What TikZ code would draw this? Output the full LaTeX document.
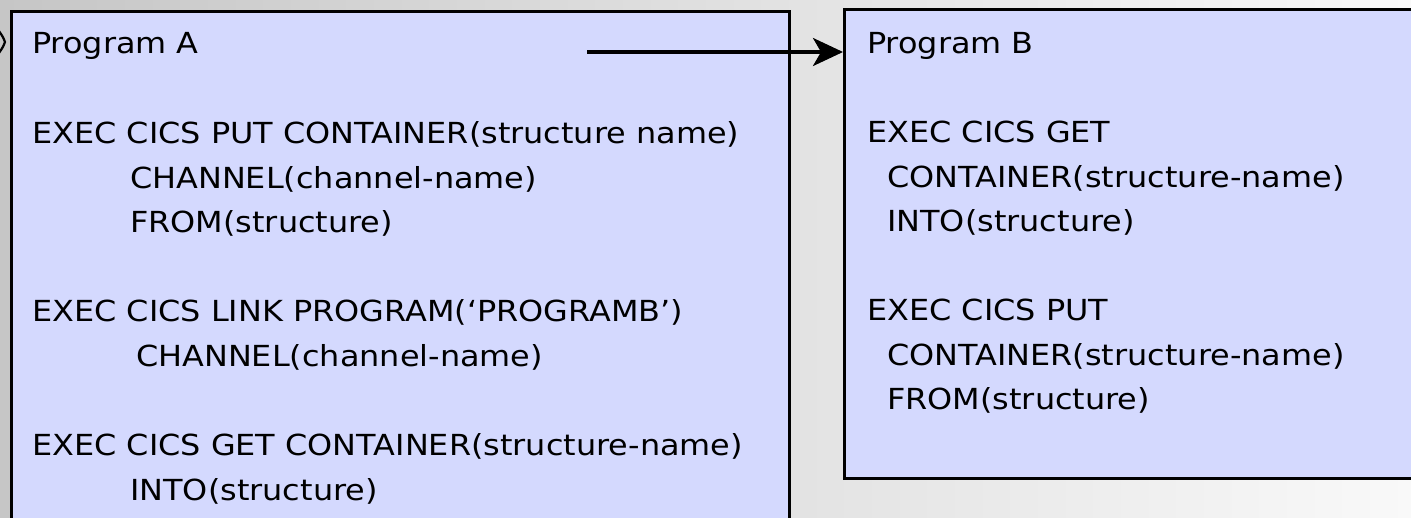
\documentclass[tikz,border=0pt]{standalone}
\usepackage{fontspec}
\usepackage{graphicx}
\setmainfont{DejaVu Sans}
\usetikzlibrary{arrows.meta}

\definecolor{boxfill}{HTML}{D4D9FE}
\definecolor{bgleft}{HTML}{C6C6C6}
\definecolor{bgright}{HTML}{F9F9F9}

\newcommand{\codetext}[1]{\scalebox{1.1}[1]{#1}}

\tikzset{
  progbox/.style={draw=black, line width=3pt, fill=boxfill, inner sep=0pt,
                  anchor=north west},
  codeline/.style={anchor=base west, inner sep=0pt, text=black,
                   font=\fontsize{29}{34}\selectfont},
  callarrow/.style={line width=3.5pt,
                    -{Stealth[length=30pt, width=28pt, inset=8pt]}}
}

\begin{document}
\begin{tikzpicture}[x=1pt, y=-1pt]
  \useasboundingbox (0,0) rectangle (1411,517);
  \shade[left color=bgleft, right color=bgright] (0,0) rectangle (1411,517);

  \begin{scope}
    \clip (0,0) rectangle (1411,517);

    % tip of an incoming arrow at the left edge
    \draw[line width=2.2pt, line join=round] (-1,31) .. controls (3,37) .. (5,42)
      .. controls (3,47) .. (-1,53);

    % the two program boxes
    \node[progbox, minimum width=778pt, minimum height=530pt] (boxA) at (10,10) {};
    \node[progbox, minimum width=600pt, minimum height=469pt] (boxB) at (843,8) {};

    % Program A
    \node[codeline] (titleA) at (32,53)  {\codetext{Program A}};
    \node[codeline] (a1) at (32,143)  {\codetext{EXEC CICS PUT CONTAINER(structure name)}};
    \node[codeline] (a2) at (130,188) {\codetext{CHANNEL(channel-name)}};
    \node[codeline] (a3) at (130,232) {\codetext{FROM(structure)}};
    \node[codeline] (a4) at (32,321)  {\codetext{EXEC CICS LINK PROGRAM(‘PROGRAMB’)}};
    \node[codeline] (a5) at (136,366) {\codetext{CHANNEL(channel-name)}};
    \node[codeline] (a6) at (32,455)  {\codetext{EXEC CICS GET CONTAINER(structure-name)}};
    \node[codeline] (a7) at (130,500) {\codetext{INTO(structure)}};

    % Program B
    \node[codeline] (titleB) at (867,53) {\codetext{Program B}};
    \node[codeline] (b1) at (867,142) {\codetext{EXEC CICS GET}};
    \node[codeline] (b2) at (887,187) {\codetext{CONTAINER(structure-name)}};
    \node[codeline] (b3) at (887,231) {\codetext{INTO(structure)}};
    \node[codeline] (b4) at (867,320) {\codetext{EXEC CICS PUT}};
    \node[codeline] (b5) at (887,365) {\codetext{CONTAINER(structure-name)}};
    \node[codeline] (b6) at (887,409) {\codetext{FROM(structure)}};

    % the link from Program A to Program B
    \coordinate (linkstart) at (587,52);
    \draw[callarrow] (linkstart) -- (boxB.west |- linkstart);
  \end{scope}
\end{tikzpicture}
\end{document}
